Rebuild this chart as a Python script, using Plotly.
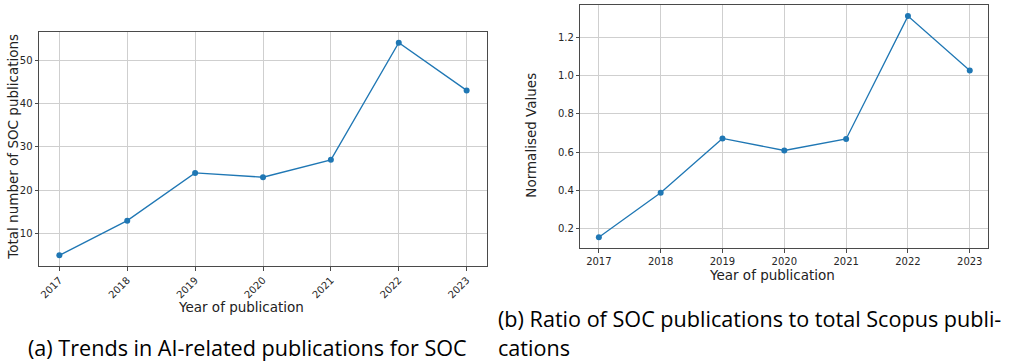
import plotly.graph_objects as go

years = [2017, 2018, 2019, 2020, 2021, 2022, 2023]
soc_counts = [5, 13, 24, 23, 27, 54, 43]
normalised = [0.155, 0.387, 0.671, 0.608, 0.668, 1.31, 1.026]
year_labels = [str(y) for y in years]

W, H = 1013, 364
BLUE = "#1f77b4"
TXT = "#262626"
GRID = "#cfcfcf"
SPINE = "#4a4a4a"
FONT = "DejaVu Sans"

def px_x(a, b):
    return [a / W, b / W]

def px_y(top, bottom):
    return [1 - bottom / H, 1 - top / H]

def pxx(a):
    return a / W

def pxy(a):
    return 1 - a / H

fig = go.Figure()
fig.add_trace(go.Scatter(x=years, y=soc_counts, mode="lines+markers",
                         line=dict(color=BLUE, width=1.3),
                         marker=dict(color=BLUE, size=6),
                         xaxis="x", yaxis="y", showlegend=False))
fig.add_trace(go.Scatter(x=years, y=normalised, mode="lines+markers",
                         line=dict(color=BLUE, width=1.3),
                         marker=dict(color=BLUE, size=6),
                         xaxis="x2", yaxis="y2", showlegend=False))

common = dict(showgrid=True, gridcolor=GRID, gridwidth=1, zeroline=False,
              showline=True, linecolor=SPINE, linewidth=1, mirror=True,
              ticks="outside", ticklen=3.5, tickcolor=SPINE, tickwidth=1,
              tickfont=dict(family=FONT, size=10, color=TXT))

fig.update_layout(
    width=W, height=H,
    margin=dict(l=0, r=0, t=0, b=0),
    paper_bgcolor="white", plot_bgcolor="white",
    font=dict(family=FONT, color=TXT),
    xaxis=dict(domain=px_x(39, 487), anchor="y", range=[2016.7, 2023.3],
               tickvals=years, ticktext=year_labels, tickangle=-45, **common),
    yaxis=dict(domain=px_y(32, 266), anchor="x", range=[2.55, 56.45],
               tickvals=[10, 20, 30, 40, 50], **common),
    xaxis2=dict(domain=px_x(580.3, 988.3), anchor="y2", range=[2016.7, 2023.3],
                tickvals=years, ticktext=year_labels, tickangle=0, **common),
    yaxis2=dict(domain=px_y(5, 248.3), anchor="x2", range=[0.097, 1.368],
                tickvals=[0.2, 0.4, 0.6, 0.8, 1.0, 1.2], tickformat=".1f", **common),
)

title_font = dict(family=FONT, size=13.5, color="#222222")
axis_titles = [
    ("Total number of SOC publications", 12.7, 147, -90),
    ("Year of publication", 241, 307, 0),
    ("Normalised Values", 530.7, 135, -90),
    ("Year of publication", 772, 275.3, 0),
]
for text, cx, cy, ang in axis_titles:
    fig.add_annotation(text=text, xref="paper", yref="paper", x=pxx(cx), y=pxy(cy),
                       xanchor="center", yanchor="middle", textangle=ang,
                       showarrow=False, font=title_font)

cap_font = dict(family="Open Sans, sans-serif", size=21.6, color="#000000")
fig.add_annotation(text="(a) Trends in AI-related publications for SOC",
                   xref="paper", yref="paper", x=pxx(26), y=pxy(347),
                   xanchor="left", yanchor="middle", showarrow=False, font=cap_font)
fig.add_annotation(text="(b) Ratio of SOC publications to total Scopus publi-",
                   xref="paper", yref="paper", x=pxx(496), y=pxy(318),
                   xanchor="left", yanchor="middle", showarrow=False, font=cap_font)
fig.add_annotation(text="cations",
                   xref="paper", yref="paper", x=pxx(496), y=pxy(347),
                   xanchor="left", yanchor="middle", showarrow=False, font=cap_font)

fig.write_html("out.html", config={"displayModeBar": False},
               post_script="document.body.style.margin='0';")
